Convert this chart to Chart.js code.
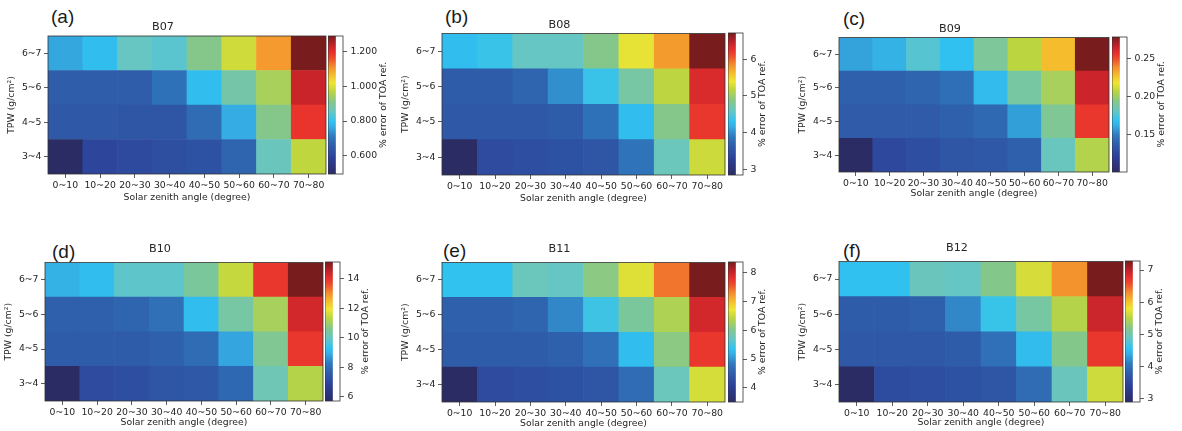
<!DOCTYPE html>
<html>
<head>
<meta charset="utf-8">
<script src="https://cdn.jsdelivr.net/npm/chart.js@4/dist/chart.umd.min.js"></script>
<style>
  body { margin: 0; background: #fff; }
  #wrap { position: relative; width: 1182px; height: 431px; overflow: hidden; }
  #wrap canvas { position: absolute; }
  .tag { position: absolute; font: 19px "Liberation Sans", Arial, sans-serif; line-height: 19px; color: #1a1a1a; }
</style>
</head>
<body>
<div id="wrap"></div>
<script>
// solar zenith angle bins (x) and TPW bins (y, g/cm2)
const sza = ["0~10", "10~20", "20~30", "30~40", "40~50", "50~60", "60~70", "70~80"];
const tpwEdges = [3, 4, 5, 6, 7];
const bands = ["B07", "B08", "B09", "B10", "B11", "B12"];
const tags = ["(a)", "(b)", "(c)", "(d)", "(e)", "(f)"];

// % error of TOA reflectance, rows from 3~4 (bottom) up to 6~7 (top)
const b07 = [
  [0.495, 0.60, 0.61, 0.62, 0.63, 0.67, 0.86, 0.975],
  [0.645, 0.645, 0.64, 0.64, 0.685, 0.765, 0.91, 1.19],
  [0.655, 0.655, 0.655, 0.695, 0.79, 0.88, 0.95, 1.23],
  [0.76, 0.79, 0.855, 0.84, 0.91, 0.99, 1.10, 1.29]
];
const b08 = [
  [2.85, 3.43, 3.47, 3.51, 3.54, 3.85, 4.63, 5.24],
  [3.58, 3.58, 3.58, 3.62, 3.82, 4.28, 4.86, 6.21],
  [3.62, 3.62, 3.70, 4.01, 4.36, 4.74, 5.17, 6.32],
  [4.28, 4.36, 4.59, 4.59, 4.86, 5.36, 5.78, 6.71]
];
const b09 = [
  [0.101, 0.126, 0.129, 0.133, 0.135, 0.138, 0.182, 0.205],
  [0.136, 0.136, 0.136, 0.138, 0.142, 0.158, 0.191, 0.255],
  [0.138, 0.138, 0.140, 0.145, 0.166, 0.188, 0.202, 0.264],
  [0.159, 0.163, 0.177, 0.168, 0.190, 0.207, 0.228, 0.278]
];
const b10 = [
  [5.71, 7.12, 7.22, 7.41, 7.50, 7.88, 10.14, 11.27],
  [7.59, 7.59, 7.59, 7.69, 7.97, 8.82, 10.51, 13.91],
  [7.69, 7.69, 7.78, 8.07, 9.20, 10.33, 11.08, 14.28],
  [9.01, 9.20, 9.85, 9.85, 10.42, 11.46, 13.91, 15.13]
];
const b11 = [
  [3.51, 4.24, 4.29, 4.34, 4.38, 4.68, 5.75, 6.57],
  [4.48, 4.48, 4.48, 4.53, 4.73, 5.31, 6.09, 7.74],
  [4.53, 4.53, 4.58, 4.92, 5.45, 5.94, 6.33, 7.93],
  [5.36, 5.36, 5.75, 5.70, 6.09, 6.62, 7.40, 8.37]
];
const b12 = [
  [2.90, 3.56, 3.60, 3.64, 3.69, 3.95, 4.91, 5.62],
  [3.73, 3.73, 3.73, 3.78, 4.00, 4.52, 5.18, 6.71],
  [3.78, 3.78, 3.82, 4.17, 4.61, 5.05, 5.48, 6.93],
  [4.56, 4.56, 4.91, 4.87, 5.18, 5.66, 6.27, 7.28]
];
const bandValues = [b07, b08, b09, b10, b11, b12];

// colorbar tick labels
const cbTicks = [
  [0.6, 0.8, 1.0, 1.2],
  [3, 4, 5, 6],
  [0.15, 0.20, 0.25],
  [6, 8, 10, 12, 14],
  [4, 5, 6, 7, 8],
  [3, 4, 5, 6, 7]
];
const cbDecimals = [3, 0, 2, 0, 0, 0];

// jet colormap, as it looks in the printed figure
const jetStops = [
  [0.00, [43, 44, 99]],
  [0.11, [45, 62, 151]],
  [0.20, [47, 92, 169]],
  [0.27, [47, 120, 189]],
  [0.34, [53, 172, 227]],
  [0.38, [48, 194, 240]],
  [0.45, [102, 198, 196]],
  [0.52, [132, 199, 140]],
  [0.60, [188, 213, 64]],
  [0.66, [239, 229, 52]],
  [0.72, [245, 187, 46]],
  [0.78, [243, 138, 46]],
  [0.84, [236, 76, 44]],
  [0.88, [232, 48, 45]],
  [0.93, [196, 35, 42]],
  [1.00, [120, 28, 30]]
];

function jet(t) {
  t = Math.max(0, Math.min(1, t));
  for (let i = 1; i < jetStops.length; i++) {
    const [t1, c1] = jetStops[i];
    const [t0, c0] = jetStops[i - 1];
    if (t <= t1) {
      const f = (t - t0) / (t1 - t0);
      const c = c0.map((v, k) => Math.round(v + (c1[k] - v) * f));
      return "rgb(" + c.join(",") + ")";
    }
  }
  return "rgb(" + jetStops[jetStops.length - 1][1].join(",") + ")";
}

// panel placement (plot area in page pixels)
const layout = [
  { x: 48, y: 36, w: 278, h: 138, cb: 328, tag: [51, 16], titleGap: 9, xGap: 24 },
  { x: 442, y: 33, w: 283, h: 142, cb: 728, tag: [445, 16.5], titleGap: 8.5, xGap: 24 },
  { x: 839, y: 37, w: 270, h: 135, cb: 1112, tag: [843, 18], titleGap: 8.5, xGap: 22 },
  { x: 45, y: 262, w: 278, h: 139, cb: 325, tag: [52, 251.5], titleGap: 13.5, xGap: 21.5 },
  { x: 442, y: 262, w: 283, h: 140, cb: 728, tag: [443, 250], titleGap: 13.5, xGap: 21.5 },
  { x: 839, y: 261, w: 284, h: 141, cb: 1125, tag: [843, 250], titleGap: 13.5, xGap: 21 }
];

Chart.defaults.font.family = '"DejaVu Sans", sans-serif';
Chart.defaults.font.size = 9.3;
Chart.defaults.color = "#262626";

const ink = "#333";
const wrap = document.getElementById("wrap");

// thin frame around the plot area, like matplotlib spines
const frame = {
  id: "frame",
  afterDatasetsDraw(chart) {
    const a = chart.chartArea;
    const ctx = chart.ctx;
    ctx.save();
    ctx.strokeStyle = ink;
    ctx.lineWidth = 0.8;
    ctx.strokeRect(a.left, a.top, a.right - a.left, a.bottom - a.top);
    ctx.restore();
  }
};

function addCanvas(left, top, w, h) {
  const c = document.createElement("canvas");
  c.width = w;
  c.height = h;
  c.style.left = left + "px";
  c.style.top = top + "px";
  wrap.appendChild(c);
  return c;
}

bands.forEach((band, i) => {
  const L = layout[i];
  const vals = bandValues[i];
  const flat = vals.flat();
  const vmin = Math.min(...flat);
  const vmax = Math.max(...flat);
  const color = (v) => jet((v - vmin) / (vmax - vmin));

  const tag = document.createElement("div");
  tag.className = "tag";
  tag.textContent = tags[i];
  tag.style.left = L.tag[0] + "px";
  tag.style.top = (L.tag[1] - 9.5) + "px";
  wrap.appendChild(tag);

  // heatmap
  const headH = L.titleGap + 11;
  const hm = addCanvas(L.x - 48, L.y - headH, 48 + L.w + 2, headH + L.h + 40);
  new Chart(hm, {
    type: "bar",
    data: {
      labels: sza,
      datasets: vals.map((row, r) => ({
        label: tpwEdges[r] + "~" + tpwEdges[r + 1],
        data: row.map(() => [tpwEdges[r], tpwEdges[r + 1]]),
        backgroundColor: row.map(color),
        borderWidth: 0,
        categoryPercentage: 1,
        barPercentage: 1
      }))
    },
    options: {
      responsive: false,
      animation: false,
      events: [],
      layout: { padding: { left: 0, right: 2, top: 0, bottom: 0 } },
      plugins: {
        legend: { display: false },
        tooltip: { enabled: false },
        title: {
          display: true,
          text: band,
          color: "#262626",
          font: { size: 11.2, weight: "normal", lineHeight: "14px" },
          padding: { top: 4, bottom: L.titleGap - 7 }
        }
      },
      scales: {
        x: {
          stacked: true,
          offset: true,
          grid: { offset: false, drawOnChartArea: false, drawTicks: true, tickLength: 4, color: ink, lineWidth: 0.8 },
          border: { display: false },
          ticks: { padding: 2, maxRotation: 0, autoSkip: false },
          title: {
            display: true,
            text: "Solar zenith angle (degree)",
            padding: { top: 0, bottom: 40 - L.xGap - 5.58 }
          },
          afterFit(s) { s.height = 40; }
        },
        y: {
          type: "linear",
          stacked: false,
          min: tpwEdges[0],
          max: tpwEdges[tpwEdges.length - 1],
          grid: { drawOnChartArea: false, drawTicks: true, tickLength: 4, color: ink, lineWidth: 0.8 },
          border: { display: false },
          afterBuildTicks(s) {
            s.ticks = tpwEdges.slice(0, -1).map((e, k) => ({ value: (e + tpwEdges[k + 1]) / 2 }));
          },
          ticks: {
            padding: 2.5,
            callback: (v) => {
              const k = Math.floor(v) - tpwEdges[0];
              return tpwEdges[k] + "~" + tpwEdges[k + 1];
            }
          },
          title: { display: true, text: "TPW (g/cm²)", padding: { top: 6, bottom: 0 } },
          afterFit(s) { s.width = 48; }
        }
      }
    },
    plugins: [frame]
  });

  // colorbar
  const ticks = cbTicks[i];
  const dec = cbDecimals[i];
  const cbW = 15;
  const cbLabel = {
    id: "cbLabel",
    afterDraw(chart) {
      const a = chart.chartArea;
      const ctx = chart.ctx;
      ctx.save();
      ctx.font = '9.3px "DejaVu Sans"';
      const maxW = Math.max(...ticks.map((t) => ctx.measureText(t.toFixed(dec)).width));
      ctx.translate(a.right + 4 + 3.5 + maxW + 6.5, (a.top + a.bottom) / 2);
      ctx.rotate(-Math.PI / 2);
      ctx.fillStyle = "#262626";
      ctx.textAlign = "center";
      ctx.textBaseline = "middle";
      ctx.fillText("% error of TOA ref.", 0, 0);
      ctx.restore();
    }
  };
  const cb = addCanvas(L.cb, L.y - 10, cbW + 60, L.h + 20);
  new Chart(cb, {
    type: "bar",
    data: {
      labels: [""],
      datasets: [{
        data: [[vmin, vmax]],
        borderWidth: 0,
        categoryPercentage: 1,
        barPercentage: 1,
        backgroundColor: (c) => {
          const a = c.chart.chartArea;
          if (!a) return "#888";
          const g = c.chart.ctx.createLinearGradient(0, a.bottom, 0, a.top);
          jetStops.forEach(([t, rgb]) => g.addColorStop(t, "rgb(" + rgb.join(",") + ")"));
          return g;
        }
      }]
    },
    options: {
      responsive: false,
      animation: false,
      events: [],
      layout: { padding: { left: 0, right: 0, top: 10, bottom: 10 } },
      plugins: { legend: { display: false }, tooltip: { enabled: false } },
      scales: {
        x: { display: false, offset: false },
        y: {
          position: "right",
          min: vmin,
          max: vmax,
          grid: { drawOnChartArea: false, drawTicks: true, tickLength: 4, color: ink, lineWidth: 0.8 },
          border: { display: false },
          afterBuildTicks(s) { s.ticks = ticks.map((v) => ({ value: v })); },
          ticks: { padding: 3.5, callback: (v) => v.toFixed(dec) },
          afterFit(s) { s.width = 60; }
        }
      }
    },
    plugins: [frame, cbLabel]
  });
});
</script>
</body>
</html>
